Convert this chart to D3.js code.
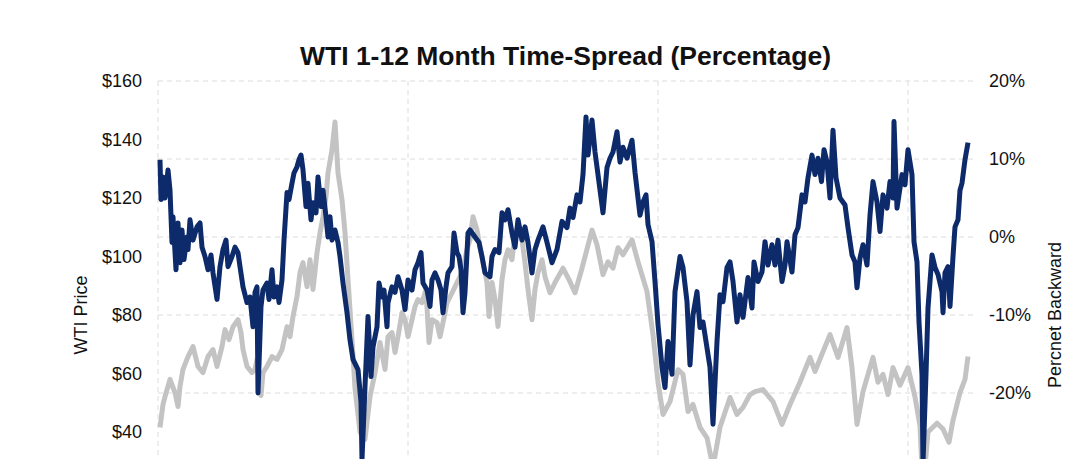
<!DOCTYPE html>
<html>
<head>
<meta charset="utf-8">
<script src="https://cdn.jsdelivr.net/npm/d3@7"></script>
<style>
  body { margin: 0; background: #fff; }
  svg { display: block; font-family: "Liberation Sans", Arial, sans-serif; }
</style>
</head>
<body>
<svg id="chart"></svg>
<script>
var width = 1080;
var height = 459;

// WTI price (left axis, $) -- decimal year / value
var priceYears = [2005.04, 2005.10, 2005.14, 2005.24, 2005.34, 2005.40, 2005.44, 2005.50, 2005.60, 2005.70,
  2005.80, 2005.90, 2006.00, 2006.10, 2006.18, 2006.28, 2006.34, 2006.42, 2006.50, 2006.60,
  2006.66, 2006.70, 2006.78, 2006.88, 2006.94, 2006.98, 2007.06, 2007.10, 2007.18, 2007.28,
  2007.38, 2007.48, 2007.58, 2007.64, 2007.70, 2007.78, 2007.84, 2007.90, 2007.98, 2008.04,
  2008.10, 2008.18, 2008.24, 2008.30, 2008.36, 2008.40, 2008.48, 2008.54, 2008.60, 2008.68,
  2008.74, 2008.80, 2008.88, 2008.94, 2009.04, 2009.14, 2009.24, 2009.34, 2009.44, 2009.54,
  2009.60, 2009.68, 2009.74, 2009.80, 2009.88, 2009.94, 2010.00, 2010.08, 2010.14, 2010.20,
  2010.28, 2010.36, 2010.42, 2010.48, 2010.58, 2010.64, 2010.70, 2010.78, 2010.88, 2010.98,
  2011.08, 2011.18, 2011.24, 2011.30, 2011.38, 2011.44, 2011.50, 2011.58, 2011.62, 2011.68,
  2011.74, 2011.80, 2011.88, 2011.94, 2012.00, 2012.08, 2012.14, 2012.20, 2012.28, 2012.34,
  2012.40, 2012.48, 2012.54, 2012.60, 2012.68, 2012.74, 2012.84, 2012.94,
  2013.10, 2013.24, 2013.34, 2013.48, 2013.68, 2013.78, 2013.90, 2014.00, 2014.10, 2014.20,
  2014.30, 2014.48, 2014.60, 2014.78, 2014.90, 2015.00, 2015.10, 2015.24, 2015.40, 2015.50,
  2015.60, 2015.70, 2015.84, 2015.98, 2016.10, 2016.24, 2016.44, 2016.58, 2016.70, 2016.84,
  2016.94, 2017.10, 2017.30, 2017.48, 2017.64, 2017.84, 2018.04, 2018.14, 2018.30, 2018.44,
  2018.60, 2018.78, 2018.88, 2018.98, 2019.10, 2019.30, 2019.40, 2019.50, 2019.60, 2019.70,
  2019.84, 2020.00, 2020.14, 2020.24, 2020.30, 2020.40, 2020.58, 2020.70, 2020.82, 2020.90,
  2021.04, 2021.14, 2021.20];
var priceValues = [41.6, 49.4, 52.1, 58, 53.5, 48.7, 55.6, 61.4, 65.8, 69.2,
  62.4, 60.3, 65.8, 68.2, 62.4, 69.2, 75, 71.6, 76, 78.4,
  74, 68.2, 62.4, 60.3, 61.4, 64.8, 52.5, 60.3, 62.4, 65.8,
  64.8, 68.2, 76, 72.6, 79.5, 86.3, 94.5, 97.9, 89.7, 98.9,
  88.7, 101.3, 108.1, 113.6, 120.4, 128.6, 136.5, 146, 128.6, 119.4,
  108.1, 92.1, 71.6, 55, 40, 37.5, 52.1, 60.3, 70.6, 61.4,
  72.6, 74, 67.2, 72.6, 80.8, 78.4, 72.6, 78.4, 82.9, 85.3,
  84.2, 88.7, 70.6, 78.4, 77.4, 72.6, 77.4, 84.2, 87.6, 91.1,
  94.5, 102.3, 105.7, 113.6, 109.1, 103.3, 97.9, 91.1, 79.5, 91.1,
  85.3, 76.1, 92.1, 98.9, 102.3, 98.9, 108.1, 110.2, 105.7, 97.9,
  88.7, 78.4, 88.7, 94.5, 98.9, 93.1, 87.6, 91.1,
  96, 91.4, 87.6, 96, 109, 104, 93.8, 98.2, 96, 103,
  100.6, 105.7, 98.2, 88, 73.3, 57, 46, 50.4, 61.3, 59.7,
  47, 49.4, 41.6, 38, 28, 41.6, 51.8, 46, 48.4, 52.8,
  53.8, 54.5, 50.4, 42.6, 49.4, 57, 65.5, 60.7, 67.5, 73.3,
  65.5, 75.7, 62, 42.6, 53.8, 65.5, 57, 59.7, 52.8, 62,
  56, 62, 52, 42, 20, 40, 43, 41, 36.5, 44,
  53.5, 58, 65.8];

// 1-12 month spread, percent backwardation (right axis)
var spreadYears = [2005.04, 2005.06, 2005.10, 2005.14, 2005.20, 2005.24, 2005.28, 2005.30, 2005.36, 2005.40,
  2005.44, 2005.48, 2005.52, 2005.58, 2005.60, 2005.64, 2005.70, 2005.78, 2005.84, 2005.88,
  2005.94, 2006.00, 2006.06, 2006.10, 2006.18, 2006.24, 2006.30, 2006.36, 2006.40, 2006.48,
  2006.54, 2006.60, 2006.64, 2006.70, 2006.78, 2006.84, 2006.90, 2006.94, 2006.98, 2007.00,
  2007.06, 2007.10, 2007.18, 2007.22, 2007.28, 2007.32, 2007.38, 2007.42, 2007.48, 2007.52,
  2007.58, 2007.62, 2007.68, 2007.72, 2007.78, 2007.82, 2007.86, 2007.90, 2007.96, 2008.00,
  2008.06, 2008.10, 2008.16, 2008.20, 2008.26, 2008.30, 2008.36, 2008.40, 2008.44, 2008.48,
  2008.54, 2008.60, 2008.64, 2008.70, 2008.78, 2008.84, 2008.90, 2009.00, 2009.06, 2009.08,
  2009.14, 2009.20, 2009.26, 2009.30, 2009.38, 2009.42, 2009.48, 2009.52, 2009.58, 2009.60,
  2009.68, 2009.74, 2009.80, 2009.88, 2009.94, 2010.00, 2010.08, 2010.14, 2010.20, 2010.26,
  2010.30, 2010.38, 2010.44, 2010.48, 2010.54, 2010.60, 2010.66, 2010.70, 2010.76, 2010.80,
  2010.88, 2010.92, 2010.98, 2011.02, 2011.06, 2011.10, 2011.14, 2011.20, 2011.24, 2011.34,
  2011.42, 2011.48, 2011.54, 2011.64, 2011.68, 2011.74, 2011.82, 2011.88, 2011.94, 2012.00,
  2012.08, 2012.14, 2012.20, 2012.28, 2012.34, 2012.40, 2012.48, 2012.54, 2012.60, 2012.70,
  2012.78, 2012.88, 2012.98,
  2013.08, 2013.18, 2013.24, 2013.30, 2013.38,
  2013.44, 2013.50, 2013.56, 2013.60, 2013.68, 2013.74, 2013.80, 2013.90, 2013.98, 2014.04,
  2014.10, 2014.18, 2014.24, 2014.30, 2014.38, 2014.48, 2014.54, 2014.64, 2014.70, 2014.76,
  2014.80, 2014.88, 2014.94, 2015.00, 2015.08, 2015.14, 2015.20, 2015.28, 2015.34, 2015.44,
  2015.50, 2015.58, 2015.64, 2015.70, 2015.78, 2015.84, 2015.90, 2015.98, 2016.04, 2016.10,
  2016.18, 2016.24, 2016.30, 2016.38, 2016.44, 2016.50, 2016.58, 2016.64, 2016.70, 2016.80,
  2016.88, 2016.92, 2017.00, 2017.08, 2017.14, 2017.20, 2017.28, 2017.34, 2017.40, 2017.48,
  2017.54, 2017.58, 2017.68, 2017.74, 2017.80, 2017.88, 2017.94, 2018.00, 2018.08, 2018.14,
  2018.20, 2018.27, 2018.32, 2018.38, 2018.44, 2018.50, 2018.56, 2018.64, 2018.74, 2018.80,
  2018.88, 2018.94, 2018.98, 2019.04, 2019.10, 2019.18, 2019.24, 2019.30, 2019.38, 2019.44,
  2019.50, 2019.58, 2019.64, 2019.70, 2019.72, 2019.78, 2019.88, 2019.94, 2020.00, 2020.08,
  2020.12, 2020.18, 2020.22, 2020.28, 2020.30, 2020.36, 2020.40, 2020.48, 2020.54, 2020.60,
  2020.68, 2020.70, 2020.74, 2020.80, 2020.84, 2020.90, 2020.94, 2021.00, 2021.04, 2021.08,
  2021.14, 2021.20];
var spreadValues = [9.9, 4.8, 7.7, 5.0, 8.6, 6.0, -0.7, 2.6, -4.2, 1.8,
  -3.3, 0.9, -2.9, 0.0, -1.6, 2.2, -0.4, 1.3, 1.8, -1.3,
  -2.5, -4.2, -2.3, -4.6, -8.0, -3.8, -1.6, -0.4, -3.8, -2.5,
  -1.3, -2.0, -3.8, -6.4, -8.4, -7.7, -11.5, -7.1, -6.4, -20.0,
  -8.9, -6.8, -5.9, -8.0, -4.2, -7.7, -6.4, -8.4, -5.5, -0.4,
  5.7, 4.8, 6.9, 8.2, 9.0, 9.9, 10.5, 8.6, 3.9, 6.9,
  2.2, 4.4, 3.1, 7.7, 3.9, 6.0, 2.6, 0.0, 2.6, -0.4,
  0.9, -0.7, -2.5, -5.9, -9.7, -13.2, -15.7, -17.0, -21.2, -28.5,
  -19.2, -10.2, -17.9, -14.1, -11.5, -5.9, -7.7, -6.8, -11.5, -8.4,
  -6.4, -7.1, -5.1, -6.8, -9.3, -5.5, -6.8, -4.2, -3.3, -2.0,
  -5.9, -6.8, -8.9, -5.5, -4.6, -5.5, -6.8, -9.7, -6.4, -4.6,
  -3.8, 0.5, -2.0, -2.5, -4.2, -9.7, -7.1, 0.5, 0.9, 0.0,
  -0.7, -2.5, -4.6, -5.1, -2.5, -1.6, -2.0, 3.1, 2.2, 3.5,
  0.5, -1.3, 2.2, -0.4, 1.3, -0.7, -4.6, -1.6, -0.4, 1.3,
  -0.7, -3.3, -1.6,
  2.0, 1.2, 3.7, 2.5, 5.4,
  4.5, 8.0, 15.4, 10.5, 15.0, 10.9, 8.0, 3.1, 8.9, 10.1,
  10.9, 13.5, 9.6, 11.5, 10.1, 12.4, 8.3, 2.8, 4.5, 5.4,
  1.6, -0.6, -5.7, -11.2, -16.7, -19.3, -13.4, -17.6, -7.0, -2.5,
  -3.9, -8.3, -16.4, -10.0, -7.0, -11.6, -10.9, -14.2, -16.7, -24.0,
  -13.4, -7.4, -8.3, -3.9, -3.2, -5.7, -10.9, -7.4, -10.3, -5.2,
  -9.1, -3.2, -5.7, -4.5, -0.6, -3.6, -1.0, -3.6, -0.4, -5.7,
  -3.6, -0.6, -4.5, 0.3, 1.2, 5.4, 4.5, 7.6, 10.5, 8.0,
  10.1, 7.1, 11.2, 9.6, 5.0, 13.7, 7.6, 5.0, 4.1, 1.2,
  -2.3, -3.2, -6.5, -2.7, -1.0, -3.6, 2.8, 7.1, 4.5, 0.7,
  5.4, 3.7, 7.1, 5.0, 14.8, 3.7, 8.0, 6.7, 11.2, 8.0,
  -0.6, -3.2, -10.9, -17.6, -29.0, -17.6, -9.1, -2.3, -3.9, -4.8,
  -7.0, -9.7, -4.6, -3.8, -8.9, -2.5, 1.3, 2.2, 6.0, 6.9,
  9.9, 12.1];

var priceTicks = [40, 60, 80, 100, 120, 140, 160];
var spreadTicks = [-20, -10, 0, 10, 20];
var gridYears = [2005, 2010, 2015, 2020];

var margin = {left: 158, right: 107, top: 81};
var plotBottom = 549; // plot continues below the visible window

var svg = d3.select("#chart").attr("width", width).attr("height", height);

var xScale = d3.scaleLinear()
    .domain([2005, 2021.3])
    .range([margin.left, width - margin.right]);

var pyScale = d3.scaleLinear()
    .domain([0, 160])
    .range([plotBottom, margin.top]);

var syScale = d3.scaleLinear()
    .domain([-40, 20])
    .range([plotBottom, margin.top]);

// grid (dashed)
svg.append("g")
    .selectAll("line")
    .data(spreadTicks)
    .enter()
    .append("line")
    .attr("x1", xScale.range()[0])
    .attr("x2", xScale.range()[1])
    .attr("y1", function(d) { return syScale(d); })
    .attr("y2", function(d) { return syScale(d); })
    .attr("stroke", "#dcdcdc")
    .attr("stroke-width", 1)
    .attr("stroke-dasharray", "5,4");

svg.append("g")
    .selectAll("line")
    .data(gridYears)
    .enter()
    .append("line")
    .attr("x1", function(d) { return xScale(d); })
    .attr("x2", function(d) { return xScale(d); })
    .attr("y1", margin.top)
    .attr("y2", plotBottom)
    .attr("stroke", "#dcdcdc")
    .attr("stroke-width", 1)
    .attr("stroke-dasharray", "5,4");

// axes
var leftAxis = svg.append("g")
    .attr("transform", "translate(" + margin.left + ",0)")
    .call(d3.axisLeft(pyScale).tickValues(priceTicks).tickSize(0).tickPadding(16)
        .tickFormat(function(d) { return "$" + d; }));

var rightAxis = svg.append("g")
    .attr("transform", "translate(" + (width - margin.right) + ",0)")
    .call(d3.axisRight(syScale).tickValues(spreadTicks).tickSize(0).tickPadding(16)
        .tickFormat(function(d) { return d + "%"; }));

[leftAxis, rightAxis].forEach(function(a) {
    a.select(".domain").remove();
    a.selectAll("text")
        .attr("font-family", "Liberation Sans, Arial, sans-serif")
        .attr("font-size", 18)
        .attr("fill", "#111");
});

// lines
var priceData = priceYears.map(function(t, i) { return {t: t, v: priceValues[i]}; });
var spreadData = spreadYears.map(function(t, i) { return {t: t, v: spreadValues[i]}; });

svg.append("path")
    .datum(priceData)
    .attr("fill", "none")
    .attr("stroke", "#c3c3c3")
    .attr("stroke-width", 5)
    .attr("stroke-linejoin", "round")
    .attr("d", d3.line()
        .x(function(d) { return xScale(d.t); })
        .y(function(d) { return pyScale(d.v); }));

svg.append("path")
    .datum(spreadData)
    .attr("fill", "none")
    .attr("stroke", "#0d2b6b")
    .attr("stroke-width", 5)
    .attr("stroke-linejoin", "round")
    .attr("d", d3.line()
        .x(function(d) { return xScale(d.t); })
        .y(function(d) { return syScale(d.v); }));

// title and axis titles
svg.append("text")
    .attr("x", (xScale.range()[0] + xScale.range()[1]) / 2)
    .attr("y", 65)
    .attr("text-anchor", "middle")
    .attr("font-size", 26.5)
    .attr("font-weight", "bold")
    .attr("fill", "#111")
    .text("WTI 1-12 Month Time-Spread (Percentage)");

var midY = (margin.top + plotBottom) / 2;

svg.append("text")
    .attr("transform", "translate(87," + midY + ") rotate(-90)")
    .attr("text-anchor", "middle")
    .attr("font-size", 18)
    .attr("fill", "#111")
    .text("WTI Price");

svg.append("text")
    .attr("transform", "translate(1061," + midY + ") rotate(-90)")
    .attr("text-anchor", "middle")
    .attr("font-size", 18)
    .attr("fill", "#111")
    .text("Percnet Backward");
</script>
</body>
</html>
